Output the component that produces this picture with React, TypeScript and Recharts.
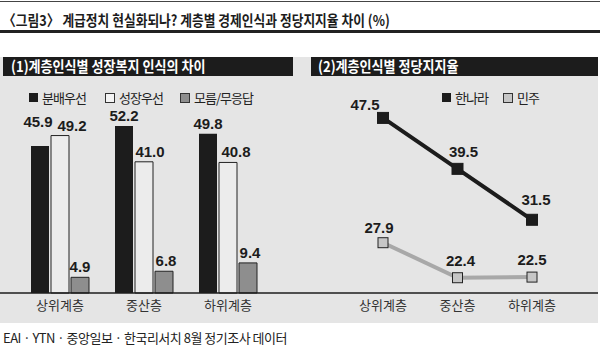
import React from "react";
import { BarChart, Bar, LineChart, Line, XAxis, YAxis, LabelList } from "recharts";

const classes = ["상위계층", "중산층", "하위계층"];
const distributionFirst = [45.9, 52.2, 49.8];
const growthFirst = [49.2, 41.0, 40.8];
const noAnswer = [4.9, 6.8, 9.4];
const hannara = [47.5, 39.5, 31.5];
const minju = [27.9, 22.4, 22.5];

const welfareData = classes.map((cls, i) => ({
  cls,
  dist: distributionFirst[i],
  growth: growthFirst[i],
  none: noAnswer[i],
}));

const partyData = classes.map((cls, i) => ({
  cls,
  hannara: hannara[i],
  minju: minju[i],
}));

const font = "'Liberation Sans', 'Noto Sans CJK KR', sans-serif";
const krFont = "'Noto Sans CJK KR', sans-serif";
const ink = "#1c1c1c";
const panelBg = "#e5e5e5";

// label tweaks so neighbouring numbers do not collide
const barNudge: Record<string, [number, number]> = {
  "dist-0": [-2, -14],
  "growth-0": [12, 0],
  "growth-1": [6, 0],
  "growth-2": [8, 0],
  "none-1": [2, 0],
  "none-2": [2, 0],
};
const lineNudge: Record<string, [number, number]> = {
  "hannara-0": [-18, 4],
  "hannara-1": [6, 0],
  "hannara-2": [4, -3],
  "minju-0": [-4, 2],
  "minju-1": [3, 0],
};

const barLabel = (key: string) => (props: any) => {
  const { x, y, width, value, index } = props;
  const [dx, dy] = barNudge[`${key}-${index}`] ?? [0, 0];
  return (
    <text
      x={Number(x) + Number(width) / 2 + dx}
      y={Number(y) - 5 + dy}
      textAnchor="middle"
      fontSize={15}
      fontWeight="bold"
      fontFamily={font}
      fill={ink}
    >
      {Number(value).toFixed(1)}
    </text>
  );
};

const lineLabel = (key: string) => (props: any) => {
  const { x, y, value, index } = props;
  const [dx, dy] = lineNudge[`${key}-${index}`] ?? [0, 0];
  return (
    <text
      x={Number(x) + dx}
      y={Number(y) - 12 + dy}
      textAnchor="middle"
      fontSize={15}
      fontWeight="bold"
      fontFamily={font}
      fill={ink}
    >
      {Number(value).toFixed(1)}
    </text>
  );
};

const squareDot = (size: number, fill: string, stroke: string) => (props: any) => {
  const { cx, cy, index } = props;
  return (
    <rect
      key={index}
      x={cx - size / 2}
      y={cy - size / 2}
      width={size}
      height={size}
      fill={fill}
      stroke={stroke}
      strokeWidth={1}
    />
  );
};

const tickStyle = { fill: "#333", fontSize: 13, fontFamily: krFont };

function LegendItem({ label, fill, stroke, left }: { label: string; fill: string; stroke?: string; left: number }) {
  return (
    <div style={{ position: "absolute", left, top: 88, display: "flex", alignItems: "center" }}>
      <div
        style={{
          width: stroke ? 8 : 9,
          height: stroke ? 8 : 9,
          background: fill,
          border: stroke ? `1px solid ${stroke}` : "none",
          marginRight: 4,
        }}
      />
      <span style={{ fontFamily: krFont, fontSize: 13, color: "#222", letterSpacing: -1 }}>{label}</span>
    </div>
  );
}

export default function App() {
  return (
    <div style={{ position: "absolute", left: 0, top: 0, width: 600, height: 352, background: "#fff", overflow: "hidden" }}>
      <div style={{ position: "absolute", left: 0, top: 1, width: 600, height: 1, background: "#444" }} />
      <div
        style={{
          position: "absolute",
          left: 3,
          top: 10,
          fontFamily: krFont,
          fontWeight: 700,
          fontSize: 15,
          color: ink,
          whiteSpace: "nowrap",
          transform: "scaleX(0.85)",
          transformOrigin: "left top",
          lineHeight: "20px",
        }}
      >
        〈그림3〉 계급정치 현실화되나? 계층별 경제인식과 정당지지율 차이 (%)
      </div>
      <div style={{ position: "absolute", left: 0, top: 30, width: 600, height: 3, background: "#222" }} />

      <div style={{ position: "absolute", left: 0, top: 57, width: 598, height: 266, background: panelBg }} />
      <div style={{ position: "absolute", left: 3, top: 57, width: 290, height: 19, background: ink }} />
      <div style={{ position: "absolute", left: 311, top: 57, width: 287, height: 19, background: ink }} />
      <div
        style={{
          position: "absolute",
          left: 11,
          top: 56,
          fontFamily: krFont,
          fontWeight: 700,
          fontSize: 15,
          color: "#fff",
          whiteSpace: "nowrap",
          transform: "scaleX(0.87)",
          transformOrigin: "left top",
          lineHeight: "20px",
        }}
      >
        (1)계층인식별 성장복지 인식의 차이
      </div>
      <div
        style={{
          position: "absolute",
          left: 318,
          top: 56,
          fontFamily: krFont,
          fontWeight: 700,
          fontSize: 15,
          color: "#fff",
          whiteSpace: "nowrap",
          transform: "scaleX(0.87)",
          transformOrigin: "left top",
          lineHeight: "20px",
        }}
      >
        (2)계층인식별 정당지지율
      </div>

      <LegendItem label="분배우선" fill={ink} left={29} />
      <LegendItem label="성장우선" fill="#f4f4f4" stroke="#333" left={105} />
      <LegendItem label="모름/무응답" fill="#8e8e8e" stroke="#333" left={180} />
      <LegendItem label="한나라" fill={ink} left={442} />
      <LegendItem label="민주" fill="#c6c6c6" stroke="#333" left={503} />

      <div style={{ position: "absolute", left: 0, top: 57 }}>
        <BarChart
          width={305}
          height={266}
          data={welfareData}
          margin={{ top: 60, right: 0, bottom: 0, left: 0 }}
          barSize={18}
          barGap={2}
        >
          <XAxis
            dataKey="cls"
            height={30}
            padding={{ left: 18, right: 35 }}
            tickLine={false}
            axisLine={{ stroke: ink, strokeWidth: 1.5 }}
            tick={tickStyle}
          />
          <YAxis hide domain={[0, 55]} />
          <Bar dataKey="dist" fill={ink} isAnimationActive={false}>
            <LabelList dataKey="dist" content={barLabel("dist")} />
          </Bar>
          <Bar dataKey="growth" fill="#ececec" stroke="#222" strokeWidth={1} isAnimationActive={false}>
            <LabelList dataKey="growth" content={barLabel("growth")} />
          </Bar>
          <Bar dataKey="none" fill="#8e8e8e" stroke="#222" strokeWidth={1} isAnimationActive={false}>
            <LabelList dataKey="none" content={barLabel("none")} />
          </Bar>
        </BarChart>
      </div>

      <div style={{ position: "absolute", left: 305, top: 57 }}>
        <LineChart width={295} height={266} data={partyData} margin={{ top: 45, right: 2, bottom: 0, left: 0 }}>
          <XAxis
            dataKey="cls"
            height={30}
            padding={{ left: 78, right: 66 }}
            tickLine={false}
            axisLine={{ stroke: ink, strokeWidth: 1.5 }}
            tick={tickStyle}
          />
          <YAxis hide domain={[20, 50]} />
          <Line
            dataKey="minju"
            stroke="#a8a8a8"
            strokeWidth={4}
            dot={squareDot(10, "#c6c6c6", "#222")}
            activeDot={false}
            isAnimationActive={false}
          >
            <LabelList dataKey="minju" content={lineLabel("minju")} />
          </Line>
          <Line
            dataKey="hannara"
            stroke={ink}
            strokeWidth={4}
            dot={squareDot(11, ink, ink)}
            activeDot={false}
            isAnimationActive={false}
          >
            <LabelList dataKey="hannara" content={lineLabel("hannara")} />
          </Line>
        </LineChart>
      </div>

      <div
        style={{
          position: "absolute",
          left: 3,
          top: 329,
          fontFamily: krFont,
          fontSize: 13,
          color: "#222",
          whiteSpace: "nowrap",
          letterSpacing: -0.5,
          lineHeight: "18px",
        }}
      >
        EAI · YTN · 중앙일보 · 한국리서치 8월 정기조사 데이터
      </div>
    </div>
  );
}
